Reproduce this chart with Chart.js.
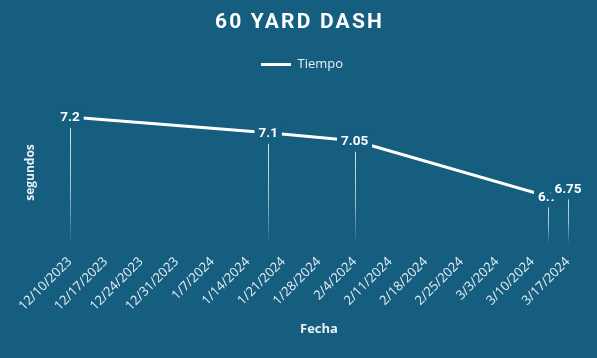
<!DOCTYPE html>
<html>
<head>
<meta charset="utf-8">
<script src="https://cdn.jsdelivr.net/npm/chart.js@4"></script>
<style>
  html, body { margin: 0; padding: 0; background: #165e80; }
  #wrap { width: 597px; height: 358px; }
</style>
</head>
<body>
<div id="wrap"><canvas id="chart"></canvas></div>
<script>
// 60 yard dash: tiempos por fecha (eje x en días desde la primera fecha)
const fechas = ["2023-12-10", "2024-01-18", "2024-02-04", "2024-03-13", "2024-03-17"];
const tiempos = [7.2, 7.1, 7.05, 6.7, 6.75];
const etiquetasX = [
  "12/10/2023", "12/17/2023", "12/24/2023", "12/31/2023", "1/7/2024",
  "1/14/2024", "1/21/2024", "1/28/2024", "2/4/2024", "2/11/2024",
  "2/18/2024", "2/25/2024", "3/3/2024", "3/10/2024", "3/17/2024",
];

const BG = "#165e80";
const TXT = "#e8eff4";
const DAY = 86400000;
const t0 = Date.parse(fechas[0]);
const puntos = fechas.map((f, i) => ({ x: (Date.parse(f) - t0) / DAY, y: tiempos[i] }));

const fondo = {
  id: "fondo",
  beforeDraw(chart) {
    const { ctx, width, height } = chart;
    ctx.save();
    ctx.fillStyle = BG;
    ctx.fillRect(0, 0, width, height);
    ctx.restore();
  },
};

// líneas verticales desde cada punto hasta el eje
const lineasCaida = {
  id: "lineasCaida",
  beforeDatasetsDraw(chart) {
    const { ctx, chartArea } = chart;
    const meta = chart.getDatasetMeta(0);
    ctx.save();
    meta.data.forEach((p) => {
      const x = Math.round(p.x) + 0.5;
      const g = ctx.createLinearGradient(0, p.y, 0, chartArea.bottom);
      g.addColorStop(0, "rgba(255,255,255,0.85)");
      g.addColorStop(0.6, "rgba(255,255,255,0.6)");
      g.addColorStop(1, "rgba(255,255,255,0)");
      ctx.strokeStyle = g;
      ctx.lineWidth = 1;
      ctx.beginPath();
      ctx.moveTo(x, p.y);
      ctx.lineTo(x, chartArea.bottom);
      ctx.stroke();
    });
    ctx.restore();
  },
};

// etiquetas de datos con fondo del color del gráfico
const etiquetas = {
  id: "etiquetas",
  afterDatasetsDraw(chart) {
    const { ctx } = chart;
    const meta = chart.getDatasetMeta(0);
    ctx.save();
    ctx.font = "bold 13.5px Roboto";
    ctx.textAlign = "center";
    ctx.textBaseline = "middle";
    meta.data.forEach((p, i) => {
      const txt = String(tiempos[i]);
      const w = ctx.measureText(txt).width;
      ctx.fillStyle = BG;
      ctx.fillRect(p.x - w / 2 - 4, p.y - 10, w + 8, 21);
      ctx.fillStyle = "#ffffff";
      ctx.fillText(txt, p.x, p.y + 1);
    });
    ctx.restore();
  },
};

const titulo = {
  id: "titulo",
  afterDraw(chart) {
    const { ctx, width } = chart;
    ctx.save();
    ctx.font = "bold 21px Roboto";
    ctx.letterSpacing = "2.2px";
    ctx.fillStyle = "#ffffff";
    ctx.textAlign = "center";
    ctx.textBaseline = "middle";
    ctx.fillText("60 YARD DASH", width / 2 + 1, 23);
    ctx.restore();
  },
};

// ejes vacíos que solo reservan espacio
const ejeVacio = (pos, tam) => ({
  type: "linear",
  position: pos,
  display: true,
  afterFit: (s) => { if (pos === "top") s.height = tam; else s.width = tam; },
  grid: { display: false, drawTicks: false },
  border: { display: false },
  ticks: { display: false },
});

new Chart(document.getElementById("chart"), {
  type: "line",
  data: {
    datasets: [
      {
        label: "Tiempo",
        data: puntos,
        borderColor: "#ffffff",
        backgroundColor: "#ffffff",
        borderWidth: 3,
        pointRadius: 0,
        tension: 0,
      },
    ],
  },
  options: {
    responsive: true,
    maintainAspectRatio: false,
    animation: false,
    devicePixelRatio: 1,
    layout: { padding: { top: 50, right: 0, bottom: 0, left: 7 } },
    plugins: {
      legend: {
        labels: {
          color: TXT,
          font: { family: "'Open Sans'", size: 13 },
          usePointStyle: true,
          pointStyle: "line",
          pointStyleWidth: 30,
          padding: 8,
        },
      },
      tooltip: { enabled: false },
    },
    scales: {
      x: {
        type: "linear",
        min: 0,
        max: 98,
        afterFit: (s) => { s.height = 114; },
        grid: { display: false, drawTicks: false },
        border: { display: false },
        ticks: {
          stepSize: 7,
          autoSkip: false,
          maxRotation: 45,
          minRotation: 45,
          color: TXT,
          padding: 10,
          font: { family: "'Open Sans'", size: 13 },
          callback: (v, i) => etiquetasX[i],
        },
        title: {
          display: true,
          text: "Fecha",
          color: TXT,
          font: { family: "'Open Sans'", size: 13, weight: "bold" },
          padding: { top: 4, bottom: 21 },
        },
      },
      y: {
        min: 6.4,
        max: 7.3,
        afterFit: (s) => { s.width = 63; },
        grid: { display: false, drawTicks: false },
        border: { display: false },
        ticks: { display: false },
        title: {
          display: true,
          text: "segundos",
          color: TXT,
          font: { family: "'Open Sans'", size: 12, weight: "bold" },
          padding: { top: 16, bottom: 4 },
        },
      },
      arriba: ejeVacio("top", 20),
      derecha: ejeVacio("right", 29),
    },
  },
  plugins: [fondo, lineasCaida, etiquetas, titulo],
});
</script>
</body>
</html>
